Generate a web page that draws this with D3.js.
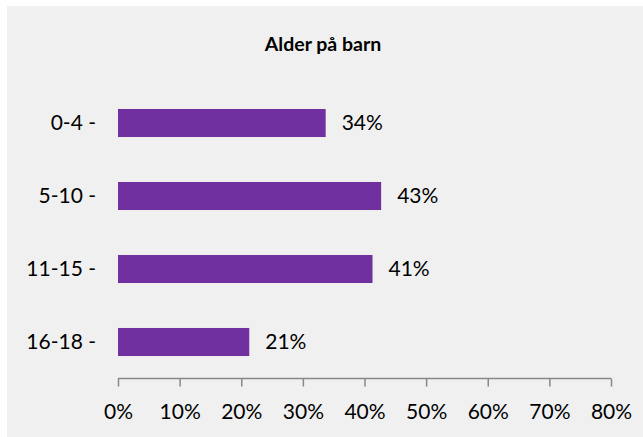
<!DOCTYPE html>
<html>
<head>
<meta charset="utf-8">
<script src="https://cdn.jsdelivr.net/npm/d3@7"></script>
<style>
  html, body { margin: 0; padding: 0; background: #ffffff; }
  svg { display: block; }
  text { font-family: Lato, "Open Sans", sans-serif; fill: #000; }
</style>
</head>
<body>
<svg id="chart" width="643" height="437"></svg>
<script>
const title = "Alder på barn";
const categories = ["0-4 -", "5-10 -", "11-15 -", "16-18 -"];
const values = [0.337, 0.427, 0.413, 0.213];
const xTicks = [0, 0.1, 0.2, 0.3, 0.4, 0.5, 0.6, 0.7, 0.8];

const svg = d3.select("#chart");
const W = 643, H = 437;

svg.append("rect")
  .attr("x", 7).attr("y", 6)
  .attr("width", W - 7).attr("height", H - 6)
  .attr("fill", "#f0f0f0");

svg.append("text")
  .attr("x", 323).attr("y", 51)
  .attr("text-anchor", "middle")
  .attr("font-weight", "bold")
  .attr("font-size", 19.5)
  .text(title);

const x = d3.scaleLinear().domain([0, 0.8]).range([118, 611]);
const y = d3.scaleBand().domain(categories).range([86.5, 378.5])
  .paddingInner(0.616).paddingOuter(0.308);

// bars
svg.append("g").selectAll("rect")
  .data(categories)
  .join("rect")
  .attr("x", x(0))
  .attr("y", d => y(d))
  .attr("width", (d, i) => x(values[i]) - x(0))
  .attr("height", y.bandwidth())
  .attr("fill", "#7030a0");

// data labels
svg.append("g").selectAll("text")
  .data(categories)
  .join("text")
  .attr("x", (d, i) => x(values[i]) + 16)
  .attr("y", d => y(d) + y.bandwidth() / 2)
  .attr("dy", "0.35em")
  .attr("font-size", 21)
  .text((d, i) => d3.format(".0%")(values[i]));

// category labels
svg.append("g").selectAll("text")
  .data(categories)
  .join("text")
  .attr("x", 96)
  .attr("y", d => y(d) + y.bandwidth() / 2)
  .attr("dy", "0.35em")
  .attr("text-anchor", "end")
  .attr("font-size", 21)
  .text(d => d);

// x axis
const xAxis = d3.axisBottom(x)
  .tickValues(xTicks)
  .tickFormat(d3.format(".0%"))
  .tickSizeInner(8)
  .tickSizeOuter(0)
  .tickPadding(18);

const gx = svg.append("g")
  .attr("transform", "translate(0,378.5)")
  .call(xAxis);
gx.select(".domain").attr("stroke", "#888888").attr("stroke-width", 1.5)
  .attr("d", `M${x(0)},0H${x(0.8)}`);
gx.selectAll(".tick line").attr("stroke", "#888888").attr("stroke-width", 1.5);
gx.selectAll(".tick text")
  .attr("font-size", 21)
  .attr("font-family", "Lato, 'Open Sans', sans-serif")
  .attr("fill", "#000");
</script>
</body>
</html>
